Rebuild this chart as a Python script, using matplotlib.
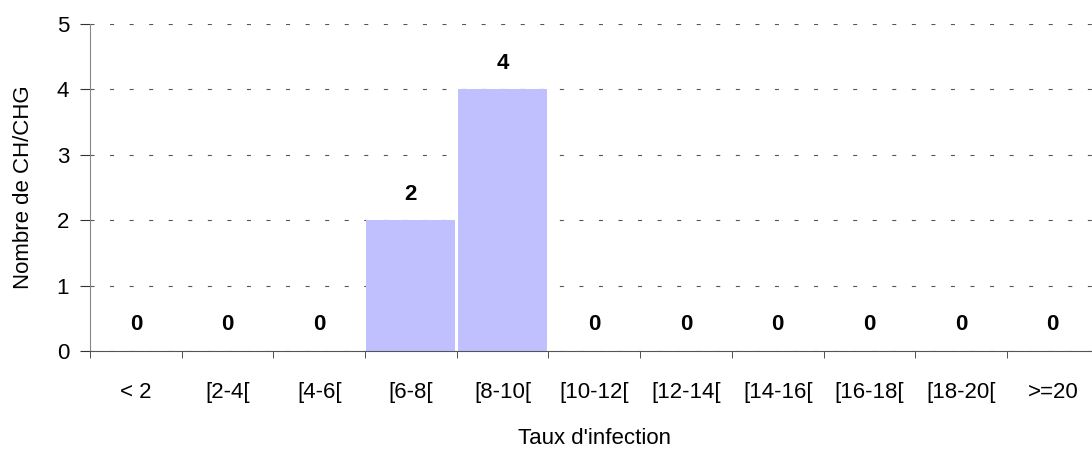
import matplotlib.pyplot as plt
import numpy as np

# ------------------------------------------------------------
# Data
# ------------------------------------------------------------
categories = ["< 2", "[2-4[", "[4-6[", "[6-8[", "[8-10[", "[10-12[", "[12-14[",
              "[14-16[", "[16-18[", "[18-20[", ">=20"]
counts = [0, 0, 0, 2, 4, 0, 0, 0, 0, 0, 0]
y_ticks = [0, 1, 2, 3, 4, 5]

plt.rcParams["font.family"] = ["Liberation Sans", "DejaVu Sans"]
FS = 16

fig = plt.figure(figsize=(10.92, 4.58), dpi=100)
ax = fig.add_axes([0.0824, 0.2336, 0.9237, 0.714])

x = np.arange(len(categories))
ax.bar(x, counts, width=0.97, color="#C0C0FF", zorder=2)

# value labels above each bar
for xi, v in zip(x, counts):
    ax.text(xi, v + 0.4, str(v), ha="center", va="center",
            fontsize=FS, fontweight="bold", zorder=3)

ax.set_xlim(-0.5, len(categories) - 0.5)
ax.set_ylim(0, 5)
ax.set_yticks(y_ticks)
ax.yaxis.grid(True, linestyle=(0, (3.6, 14)), color="#555555", linewidth=0.8)
ax.set_axisbelow(True)

# category labels centred, tick marks on the boundaries
ax.set_xticks(x)
ax.set_xticklabels(categories)
ax.tick_params(axis="x", length=0, pad=22, labelsize=FS)
ax.set_xticks(np.arange(len(categories) + 1) - 0.5, minor=True)
ax.tick_params(axis="x", which="minor", length=5, direction="out", color="#333333")
ax.tick_params(axis="y", length=7, direction="out", labelsize=FS, color="#333333", pad=8)

for side in ("top", "right"):
    ax.spines[side].set_visible(False)
ax.spines["left"].set_color("#888888")
ax.spines["bottom"].set_color("#555555")

ax.set_xlabel("Taux d'infection", fontsize=FS, labelpad=18)
ax.set_ylabel("Nombre de CH/CHG", fontsize=FS, labelpad=16)

plt.savefig("out.png", dpi=100)
